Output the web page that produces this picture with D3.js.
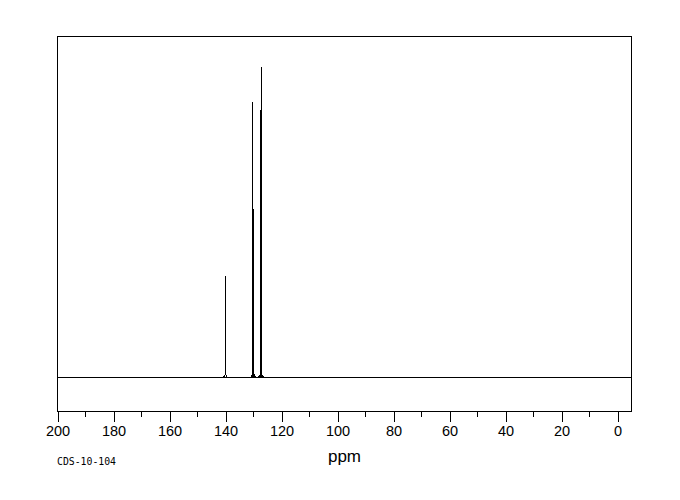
<!DOCTYPE html>
<html>
<head>
<meta charset="utf-8">
<script src="https://cdn.jsdelivr.net/npm/d3@7"></script>
<style>
  body { margin: 0; background: #fff; }
  svg { display: block; }
</style>
</head>
<body>
<div id="chart"></div>
<script>
// peak list (ppm, relative height)
const peakShifts = [140.0, 130.3, 129.9, 127.5, 127.1];
const peakHeights = [32.7, 88.8, 54.3, 86.2, 100];
const tickValues = [200, 180, 160, 140, 120, 100, 80, 60, 40, 20, 0];
const minorTicks = [190, 170, 150, 130, 110, 90, 70, 50, 30, 10];
const xLabel = "ppm";
const codeLabel = "CDS-10-104";

const width = 680, height = 500;
const margin = { top: 36, right: 48.5, bottom: 88.5, left: 57.5 };

const svg = d3.select("#chart")
  .append("svg")
  .attr("width", width)
  .attr("height", height);

let x = d3.scaleLinear().domain([200, -5]).range([margin.left, width - margin.right]);
let y = d3.scaleLinear().domain([-11, 110]).range([height - margin.bottom, margin.top]);

// frame
svg.append("rect")
  .attr("x", margin.left)
  .attr("y", margin.top + 0.5)
  .attr("width", width - margin.right - margin.left)
  .attr("height", height - margin.bottom - margin.top - 0.5)
  .attr("fill", "none")
  .attr("stroke", "#000")
  .attr("stroke-width", 1)
  .attr("shape-rendering", "crispEdges");

// major ticks with labels
let axis = d3.axisBottom(x)
  .tickValues(tickValues)
  .tickSize(10)
  .tickSizeOuter(0)
  .tickPadding(4)
  .tickFormat(d3.format("d"));

let gx = svg.append("g")
  .attr("transform", "translate(0," + (height - margin.bottom) + ")")
  .call(axis);
gx.select(".domain").remove();
gx.selectAll("line").attr("shape-rendering", "crispEdges").attr("stroke", "#000");
gx.selectAll("text")
  .attr("fill", "#000")
  .style("font-family", "'Liberation Sans', Arial, sans-serif")
  .style("font-size", "14.5px");

// minor ticks
svg.append("g").selectAll("line")
  .data(minorTicks)
  .join("line")
  .attr("x1", d => x(d))
  .attr("x2", d => x(d))
  .attr("y1", height - margin.bottom)
  .attr("y2", height - margin.bottom + 5)
  .attr("stroke", "#000")
  .attr("shape-rendering", "crispEdges");

// baseline of the spectrum
let line = d3.line().x(d => x(d[0])).y(d => y(d[1]));
svg.append("path")
  .attr("d", line([[200, 0], [-5, 0]]))
  .attr("fill", "none")
  .attr("stroke", "#000")
  .attr("shape-rendering", "crispEdges");

// peaks: small foot either side, then a straight vertical spike
let peaks = peakShifts.map((p, i) => [
  [p + 0.7, 0], [p, 1], [p, peakHeights[i]], [p, 1], [p - 0.7, 0]
]);
svg.append("g").selectAll("path")
  .data(peaks)
  .join("path")
  .attr("d", line)
  .attr("fill", "none")
  .attr("stroke", "#000")
  .attr("stroke-width", 1)
  .attr("shape-rendering", "crispEdges");

svg.append("text")
  .attr("x", x(100) + 7)
  .attr("y", 462)
  .attr("text-anchor", "middle")
  .style("font-family", "'Liberation Sans', Arial, sans-serif")
  .style("font-size", "17px")
  .text(xLabel);

svg.append("text")
  .attr("x", 57)
  .attr("y", 465)
  .style("font-family", "'DejaVu Sans Mono', monospace")
  .style("font-size", "9.8px")
  .text(codeLabel);
</script>
</body>
</html>
